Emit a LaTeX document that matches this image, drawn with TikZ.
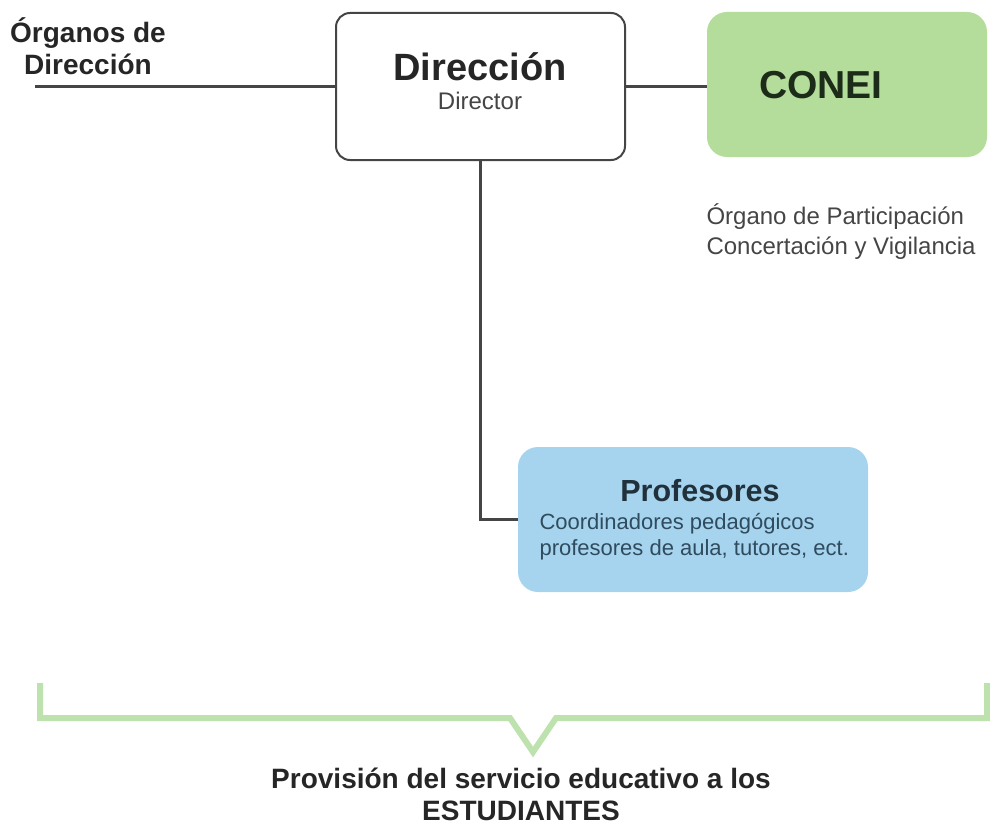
\documentclass[tikz,border=0pt]{standalone}
\usepackage{fontspec}
\setmainfont{Liberation Sans}
\usepackage{xcolor}
\usetikzlibrary{positioning}

\definecolor{coneigreen}{HTML}{B4DC9A}
\definecolor{profblue}{HTML}{A6D4EE}
\definecolor{bracegreen}{HTML}{BEE2AE}
\definecolor{linegray}{HTML}{454545}
\definecolor{textgray}{HTML}{454545}
\definecolor{coneitextc}{HTML}{1D2B19}
\definecolor{proftextc}{HTML}{20313C}
\definecolor{profnotec}{HTML}{2F4B5E}

\begin{document}
\begin{tikzpicture}[
    x=1pt, y=-1pt,
    box/.style={rectangle, rounded corners=14pt, inner sep=0pt},
    link/.style={draw=linegray, line width=2.2pt},
    head/.style={font=\fontsize{28}{32}\selectfont\bfseries, text=black!85, align=center},
    note/.style={font=\fontsize{24}{30}\selectfont, text=textgray, align=left}
]
\useasboundingbox (0,0) rectangle (990,832);

% Direction box and side labels
\node[box, draw=linegray, line width=2pt, fill=white, minimum width=289pt, minimum height=147pt] (dir) at (480.5,86.5) {};
\node[font=\fontsize{38}{40}\selectfont\bfseries, text=black!85] (dirtitle) at (480,67) {Dirección};
\node[font=\fontsize{24}{28}\selectfont, text=textgray] (dirsub) at (480,101) {Director};
\node[head] (organos) at (88,46) {Órganos de\\Dirección};
\coordinate (orgstart) at (35,86.5);

% CONEI
\node[box, fill=coneigreen, rounded corners=20pt, minimum width=280pt, minimum height=145pt] (conei) at (847,84.5) {};
\node[font=\fontsize{39}{42}\selectfont\bfseries, text=coneitextc] (coneitext) at (821,85) {CONEI};
\node[note, anchor=west] (coneinote) at (703,232) {Órgano de Participación\\Concertación y Vigilancia};

% Teachers
\node[box, fill=profblue, rounded corners=20pt, minimum width=350pt, minimum height=145pt] (prof) at (693,519.5) {};
\node[font=\fontsize{30.5}{34}\selectfont\bfseries, text=proftextc] (proftitle) at (700,491) {Profesores};
\node[font=\fontsize{22}{26}\selectfont, text=profnotec, align=left, anchor=west] (profnote) at (536,537) {Coordinadores pedagógicos\\profesores de aula, tutores, ect.};

% Connectors
\draw[link] (orgstart) -- (dir.west);
\draw[link] (dir.east) -- (dir.east -| conei.west);
\draw[link] (dir.south) |- (prof.west);

% Bracket over the students
\draw[bracegreen, line width=6pt, line join=miter] (40,683) -- (40,718) -- (510,718) -- (533,752) -- (556,718) -- (987,718) -- (987,683);
\node[head] (alumnos) at (521,794) {Provisión del servicio educativo a los\\ESTUDIANTES};

\end{tikzpicture}
\end{document}
